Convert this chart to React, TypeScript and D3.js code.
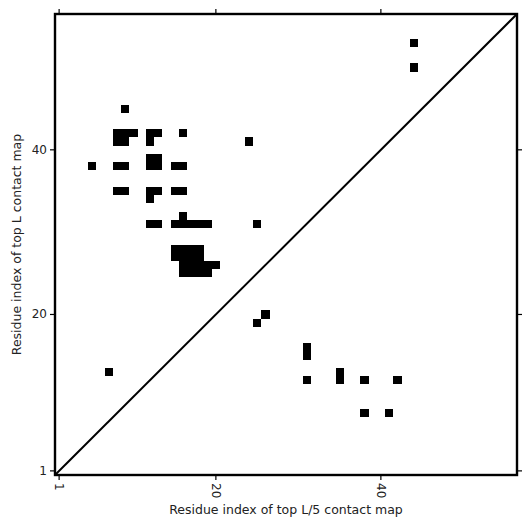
import React from 'react';
import * as d3 from 'd3';

// residue count (L)
const L = 56;

// upper-left: top L contacts [x, y]
const topL: [number, number][] = [
  [44, 53], [44, 50], [9, 45],
  [8, 42], [9, 42], [10, 42], [12, 42], [13, 42], [16, 42],
  [8, 41], [9, 41], [12, 41], [24, 41],
  [12, 39], [13, 39],
  [5, 38], [8, 38], [9, 38], [12, 38], [13, 38], [15, 38], [16, 38],
  [8, 35], [9, 35], [12, 35], [13, 35], [15, 35], [16, 35],
  [12, 34],
  [16, 32],
  [12, 31], [13, 31], [15, 31], [16, 31], [17, 31], [18, 31], [19, 31], [25, 31],
  [15, 28], [16, 28], [17, 28], [18, 28],
  [15, 27], [16, 27], [17, 27], [18, 27],
  [16, 26], [17, 26], [18, 26], [19, 26], [20, 26],
  [16, 25], [17, 25], [18, 25], [19, 25],
  [7, 13],
];

// lower-right: top L/5 contacts [x, y]
const topL5: [number, number][] = [
  [26, 20], [25, 19],
  [31, 16], [31, 15],
  [35, 13], [35, 12], [31, 12], [38, 12], [42, 12],
  [38, 8], [41, 8],
];

const tickValues = [1, 20, 40];

const font = 'DejaVu Sans, sans-serif';

export default function App() {
  const margin = { top: 14, right: 14, bottom: 56, left: 55 };
  const W = 531;
  const H = 531;
  const innerW = W - margin.left - margin.right;
  const innerH = H - margin.top - margin.bottom;

  const x = d3.scaleLinear().domain([0.5, L + 0.5]).range([0, innerW]);
  const y = d3.scaleLinear().domain([0.5, L + 0.5]).range([innerH, 0]);

  const cells = [...topL, ...topL5];
  const tickLen = 5;

  return (
    <svg width={W} height={H} style={{ position: 'absolute', left: 0, top: 0 }}>
      <rect width={W} height={H} fill="#fff" />
      <g transform={`translate(${margin.left},${margin.top})`}>
        {cells.map(([cx, cy], i) => (
          <rect
            key={i}
            x={x(cx - 0.5)}
            y={y(cy + 0.5)}
            width={x(cx + 0.5) - x(cx - 0.5)}
            height={y(cy - 0.5) - y(cy + 0.5)}
            fill="#000"
            shapeRendering="crispEdges"
          />
        ))}

        {/* diagonal */}
        <line x1={x(0.5)} y1={y(0.5)} x2={x(L + 0.5)} y2={y(L + 0.5)} stroke="#000" strokeWidth={2} />

        {/* ticks on all four sides */}
        {tickValues.map((t) => (
          <g key={'x' + t}>
            <line x1={x(t)} x2={x(t)} y1={innerH} y2={innerH + tickLen} stroke="#000" strokeWidth={1.2} />
            <line x1={x(t)} x2={x(t)} y1={0} y2={-tickLen} stroke="#000" strokeWidth={1.2} />
            <text
              transform={`translate(${x(t)},${innerH + 8}) rotate(90)`}
              fontFamily={font}
              fontSize={12}
              dominantBaseline="central"
              textAnchor="start"
              fill="#222"
            >
              {t}
            </text>
          </g>
        ))}
        {tickValues.map((t) => (
          <g key={'y' + t}>
            <line x1={0} x2={-tickLen} y1={y(t)} y2={y(t)} stroke="#000" strokeWidth={1.2} />
            <line x1={innerW} x2={innerW + tickLen} y1={y(t)} y2={y(t)} stroke="#000" strokeWidth={1.2} />
            <text
              x={-8}
              y={y(t)}
              fontFamily={font}
              fontSize={12}
              dominantBaseline="central"
              textAnchor="end"
              fill="#222"
            >
              {t}
            </text>
          </g>
        ))}

        {/* frame */}
        <rect x={0} y={0} width={innerW} height={innerH} fill="none" stroke="#000" strokeWidth={2.4} />

        <text
          x={innerW / 2}
          y={innerH + 39}
          fontFamily={font}
          fontSize={12.5}
          textAnchor="middle"
          fill="#222"
        >
          Residue index of top L/5 contact map
        </text>
        <text
          transform={`translate(${-34},${innerH / 2}) rotate(-90)`}
          fontFamily={font}
          fontSize={12.5}
          textAnchor="middle"
          fill="#222"
        >
          Residue index of top L contact map
        </text>
      </g>
    </svg>
  );
}
